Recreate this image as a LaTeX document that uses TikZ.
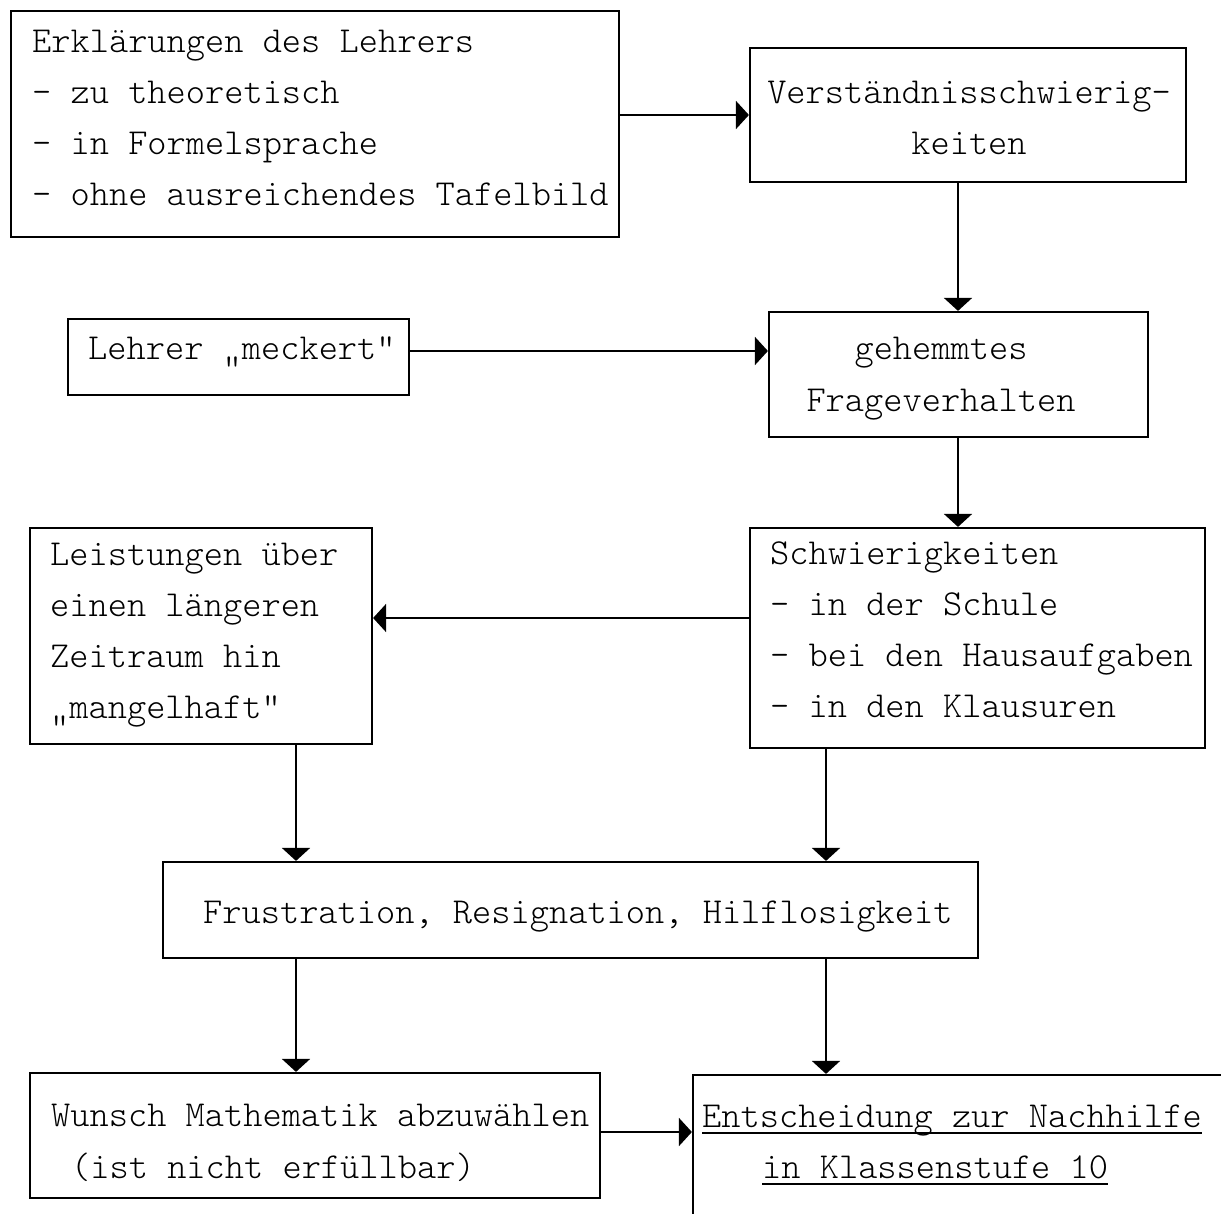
\documentclass[tikz,border=0pt]{standalone}
\usepackage{fontspec}
\newfontfamily\boxfont{lmmonolt10-regular.otf}
\usetikzlibrary{arrows.meta}

\tikzset{
  frame/.style 2 args={draw, line width=2.2pt, inner sep=0pt,
    minimum width=#1, minimum height=#2},
  txt/.style={inner sep=0pt, anchor=base west,
    font=\boxfont\fontsize{36.6pt}{44pt}\selectfont},
  ctxt/.style={txt, anchor=base},
  link/.style={line width=2pt, -{Triangle[length=13pt,width=28pt]}},
  uline/.style={line width=2pt}
}

\begin{document}
\begin{tikzpicture}[x=1pt, y=-1pt]
\fill[white] (0,0) rectangle (1221,1214);
\path[use as bounding box, clip] (0,0) rectangle (1221,1214);

% boxes
\node[frame={608pt}{226pt}] (A) at (315,124) {};
\node[frame={436pt}{134pt}] (B) at (968,115) {};
\node[frame={379pt}{125pt}] (C) at (958.5,374.5) {};
\node[frame={341pt}{76pt}]  (D) at (238.5,357) {};
\node[frame={455pt}{220pt}] (E) at (977.5,638) {};
\node[frame={342pt}{216pt}] (F) at (201,636) {};
\node[frame={815pt}{96pt}]  (G) at (570.5,910) {};
\node[frame={570pt}{125pt}] (H) at (315,1135.5) {};
\node[frame={560pt}{170pt}] (I) at (973,1160) {};

% texts
\node[txt] (a1) at (32,53)  {Erklärungen des Lehrers};
\node[txt] (a2) at (32,104) {- zu theoretisch};
\node[txt] (a3) at (32,155) {- in Formelsprache};
\node[txt] (a4) at (32,206) {- ohne ausreichendes Tafelbild};

\node[ctxt] (b1) at (969,104) {Verständnisschwierig-};
\node[ctxt] (b2) at (969,155) {keiten};

\node[ctxt] (c1) at (941,360) {gehemmtes};
\node[ctxt] (c2) at (941,412) {Frageverhalten};

\node[txt] (d1) at (88,360) {Lehrer „meckert“};

\node[txt] (e1) at (770,564) {Schwierigkeiten};
\node[txt] (e2) at (770,615) {- in der Schule};
\node[txt] (e3) at (770,666) {- bei den Hausaufgaben};
\node[txt] (e4) at (770,717) {- in den Klausuren};

\node[txt] (f1) at (50,565) {Leistungen über};
\node[txt] (f2) at (50,616) {einen längeren};
\node[txt] (f3) at (50,667) {Zeitraum hin};
\node[txt] (f4) at (50,718) {„mangelhaft“};

\node[txt] (g1) at (203,923) {Frustration, Resignation, Hilflosigkeit};

\node[txt] (h1) at (51,1126) {Wunsch Mathematik abzuwählen};
\node[txt] (h2) at (71,1178) {(ist nicht erfüllbar)};

\node[txt] (i1) at (702,1127) {Entscheidung zur Nachhilfe};
\node[txt] (i2) at (762,1178) {in Klassenstufe 10};
\draw[uline] ([yshift=-6pt]i1.base west) -- ([yshift=-6pt]i1.base east);
\draw[uline] ([yshift=-6pt]i2.base west) -- ([yshift=-6pt]i2.base east);

% rows and columns used by the connectors
\coordinate (rAB) at (0,115);
\coordinate (rDC) at (0,351);
\coordinate (rEF) at (0,618);
\coordinate (rHI) at (0,1132);
\coordinate (cBC) at (958,0);
\coordinate (cL)  at (296,0);
\coordinate (cR)  at (826,0);

% connectors
\draw[link] (A.east |- rAB) -- (B.west |- rAB);
\draw[link] (B.south -| cBC) -- (C.north -| cBC);
\draw[link] (D.east |- rDC) -- (C.west |- rDC);
\draw[link] (C.south -| cBC) -- (E.north -| cBC);
\draw[link] (E.west |- rEF) -- (F.east |- rEF);
\draw[link] (F.south -| cL) -- (G.north -| cL);
\draw[link] (E.south -| cR) -- (G.north -| cR);
\draw[link] (G.south -| cL) -- (H.north -| cL);
\draw[link] (G.south -| cR) -- (I.north -| cR);
\draw[link] (H.east |- rHI) -- (I.west |- rHI);
\end{tikzpicture}
\end{document}
